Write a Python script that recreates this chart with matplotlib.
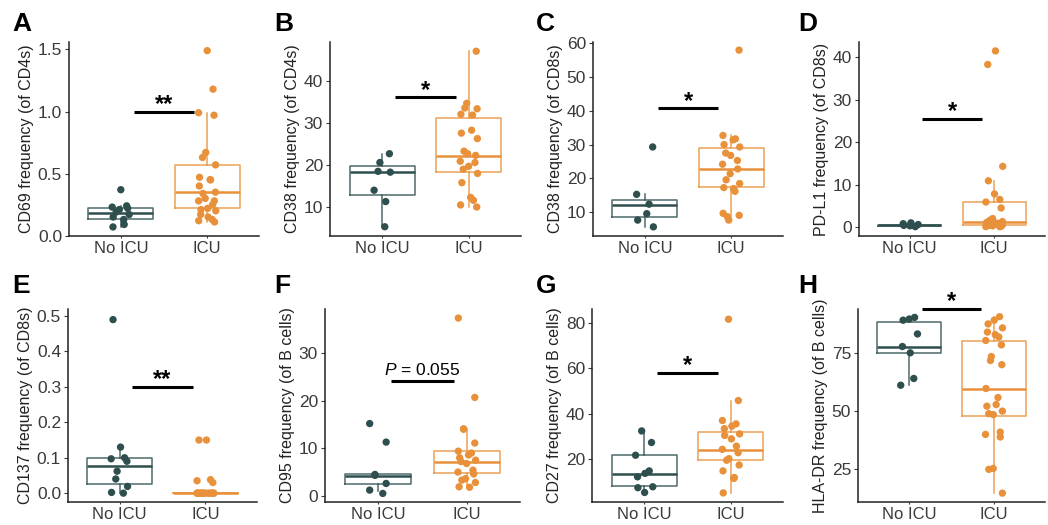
import numpy as np
import matplotlib.pyplot as plt

plt.rcParams['font.family'] = ['Liberation Sans', 'DejaVu Sans']
plt.rcParams['mathtext.fontset'] = 'custom'
plt.rcParams['mathtext.it'] = 'Liberation Sans:italic'
plt.rcParams['mathtext.rm'] = 'Liberation Sans'

DARK = '#2F4F4F'
ORANGE = '#E8913A'
TXT = '#3A3A3A'

groups = ['No ICU', 'ICU']

# values; box stats = [whislo, q1, med, q3, whishi]
a_no = [0.37, 0.24, 0.23, 0.22, 0.21, 0.19, 0.17, 0.15, 0.13, 0.09, 0.07]
a_icu = [1.49, 1.18, 0.99, 0.97, 0.67, 0.63, 0.57, 0.47, 0.45, 0.45, 0.40, 0.35, 0.34,
         0.30, 0.28, 0.28, 0.25, 0.22, 0.21, 0.20, 0.17, 0.15, 0.13, 0.12, 0.11]
a_box_no = [0.07, 0.13, 0.18, 0.22, 0.24]
a_box_icu = [0.11, 0.22, 0.35, 0.57, 0.99]

b_no = [22.6, 20.5, 18.4, 18.2, 13.9, 11.2, 5.2]
b_icu = [47.0, 34.6, 33.5, 33.3, 32.0, 31.8, 28.2, 27.5, 26.2, 23.2, 22.6, 22.2, 20.8,
         20.5, 19.6, 18.9, 17.9, 15.7, 12.2, 11.5, 10.4, 9.9]
b_box_no = [5.2, 12.7, 18.2, 19.6, 22.6]
b_box_icu = [9.9, 18.2, 22.1, 31.0, 47.0]

c_no = [29.3, 15.3, 12.4, 9.6, 7.7, 5.7]
c_icu = [57.9, 32.7, 31.7, 31.4, 30.0, 29.3, 27.5, 26.8, 25.3, 24.2, 22.8, 21.4, 19.6,
         18.5, 17.3, 17.0, 16.2, 9.7, 9.1, 8.7, 7.7]
c_box_no = [5.7, 8.7, 12.3, 13.7, 15.3]
c_box_icu = [7.7, 17.4, 22.9, 28.9, 32.7]

d_no = [1.0, 0.8, 0.6, 0.4, 0.3, 0.1]
d_icu = [41.5, 38.3, 14.3, 10.9, 7.8, 6.5, 5.9, 4.5, 2.0, 1.6, 1.3, 1.1, 0.9, 0.7,
         0.6, 0.5, 0.4, 0.3, 0.2, 0.1, 0.1]
d_box_no = [0.1, 0.25, 0.4, 0.55, 1.0]
d_box_icu = [0.1, 0.5, 1.3, 5.9, 10.9]

e_no = [0.49, 0.13, 0.10, 0.097, 0.09, 0.062, 0.04, 0.019, 0.002, 0.0]
e_icu = [0.15, 0.15, 0.038, 0.035, 0.03, 0, 0, 0, 0, 0, 0, 0, 0, 0, 0, 0, 0, 0, 0, 0]
e_box_no = [0.0, 0.025, 0.077, 0.10, 0.13]
e_box_icu = [0, 0, 0, 0, 0]

f_no = [15.2, 11.3, 4.5, 4.3, 2.6, 1.2, 0.5]
f_icu = [37.4, 20.7, 14.1, 14.0, 11.1, 9.4, 9.0, 8.6, 8.0, 7.5, 7.2, 6.8, 5.4, 5.0,
         4.6, 3.6, 3.3, 2.8, 1.9, 1.8]
f_box_no = [1.0, 2.5, 4.1, 4.5, 4.5]
f_box_icu = [1.8, 4.9, 7.2, 9.4, 14.1]

g_no = [32.5, 27.4, 21.8, 14.9, 13.8, 12.3, 7.9, 7.5, 5.4]
g_icu = [81.7, 45.9, 37.1, 35.6, 34.6, 33.5, 31.2, 30.5, 29.0, 25.8, 24.4, 22.9, 20.3,
         19.6, 17.5, 14.9, 12.0, 11.6, 5.2]
g_box_no = [5.4, 8.1, 13.5, 21.8, 32.5]
g_box_icu = [5.2, 19.7, 24.3, 32.1, 45.9]

h_no = [90.2, 89.5, 89.0, 83.1, 77.7, 75.0, 64.0, 61.1]
h_icu = [90.5, 89.0, 87.4, 85.7, 83.9, 82.8, 81.8, 80.3, 78.4, 73.4, 71.7, 69.9, 59.7,
         55.8, 52.8, 52.1, 50.0, 48.9, 48.5, 41.0, 40.0, 38.9, 25.4, 25.0, 14.8]
h_box_no = [61.1, 75.0, 77.4, 88.4, 90.2]
h_box_icu = [14.8, 48.1, 59.6, 80.1, 90.5]

letters = ['A', 'B', 'C', 'D', 'E', 'F', 'G', 'H']
ylabels = ['CD69 frequency (of CD4s)', 'CD38 frequency (of CD4s)',
           'CD38 frequency (of CD8s)', 'PD-L1 frequency (of CD8s)',
           'CD137 frequency (of CD8s)', 'CD95 frequency (of B cells)',
           'CD27 frequency (of B cells)', 'HLA-DR frequency (of B cells)']
sig_y = [1.0, 36.0, 40.7, 25.4, 0.30, 24.1, 58.2, 93.7]
sig_txt = ['**', '*', '*', '*', '**', '$\\it{P}$ = 0.055', '*', '*']
yticks = [[0.0, 0.5, 1.0, 1.5], [10, 20, 30, 40], [10, 20, 30, 40, 50, 60],
          [0, 10, 20, 30, 40], [0.0, 0.1, 0.2, 0.3, 0.4, 0.5], [0, 10, 20, 30],
          [20, 40, 60, 80], [25, 50, 75]]
ylims = [(-0.003, 1.56), (3.0, 49.2), (3.0, 60.3), (-2.1, 43.6),
         (-0.025, 0.52), (-1.3, 39.3), (1.2, 86.2), (11.0, 93.8)]
points = [(a_no, a_icu), (b_no, b_icu), (c_no, c_icu), (d_no, d_icu),
          (e_no, e_icu), (f_no, f_icu), (g_no, g_icu), (h_no, h_icu)]
boxes = [(a_box_no, a_box_icu), (b_box_no, b_box_icu), (c_box_no, c_box_icu),
         (d_box_no, d_box_icu), (e_box_no, e_box_icu), (f_box_no, f_box_icu),
         (g_box_no, g_box_icu), (h_box_no, h_box_icu)]

W, H = 1048, 525
# axes rectangles in pixels: left, top, right, bottom
rects = [(69, 42, 259, 236), (330, 42, 521, 236), (593, 42, 783, 236), (859, 42, 1045, 236),
         (68, 309, 257, 502), (325, 309, 520, 502), (592, 309, 783, 502), (858, 309, 1045, 502)]

fig = plt.figure(figsize=(W / 100, H / 100), dpi=100)

for i in range(8):
    l, t, r, b = rects[i]
    ax = fig.add_axes([l / W, (H - b) / H, (r - l) / W, (b - t) / H])
    cols = [DARK, ORANGE]
    for j in range(2):
        s = boxes[i][j]
        st = dict(whislo=s[0], q1=s[1], med=s[2], q3=s[3], whishi=s[4])
        c = cols[j]
        ax.bxp([st], positions=[j + 1], widths=0.75, showfliers=False, showcaps=False,
               boxprops=dict(color=c, lw=1.1, alpha=0.85),
               whiskerprops=dict(color=c, lw=1.1, alpha=0.85),
               medianprops=dict(color=c, lw=1.8), zorder=2)
        v = np.asarray(points[i][j], dtype=float)
        jit = 0.1 * np.sin(np.arange(len(v)) * 2.399 + i)
        ax.scatter(j + 1 + jit, v, s=28, color=c, edgecolors='none', zorder=3)

    y = sig_y[i]
    ax.plot([1.15, 1.85], [y, y], color='black', lw=2.2, clip_on=False, zorder=4,
            solid_capstyle='butt')
    big = sig_txt[i].startswith('*')
    ax.annotate(sig_txt[i], (1.5, y), xytext=(0, -3 if big else 2), textcoords='offset points',
                ha='center', va='bottom', fontsize=17 if big else 12.5,
                fontweight='bold' if big else 'normal', color='black', annotation_clip=False)

    ax.set_xlim(0.4, 2.6)
    ax.set_ylim(*ylims[i])
    ax.set_xticks([1, 2])
    ax.set_xticklabels(groups)
    ax.set_yticks(yticks[i])
    if isinstance(yticks[i][0], float):
        ax.set_yticklabels([f'{v:.1f}' for v in yticks[i]])
    ax.set_ylabel(ylabels[i], fontsize=11.5, color='#222222', labelpad=3)
    for sp in ['top', 'right']:
        ax.spines[sp].set_visible(False)
    for sp in ['left', 'bottom']:
        ax.spines[sp].set_linewidth(1.1)
        ax.spines[sp].set_color('#222222')
    ax.tick_params(labelsize=12.5, colors=TXT, length=3, width=0.8, pad=2)
    ax.tick_params(axis='x', labelsize=12, length=1.5, pad=2)
    ax.set_facecolor('white')

    col = i % 4
    row = i // 4
    fig.text((col * 262 + 12) / W, 1 - (row * 262 + 31) / H, letters[i],
             fontsize=19, fontweight='bold', color='black', ha='left', va='baseline')

fig.savefig('out.png', dpi=100)
